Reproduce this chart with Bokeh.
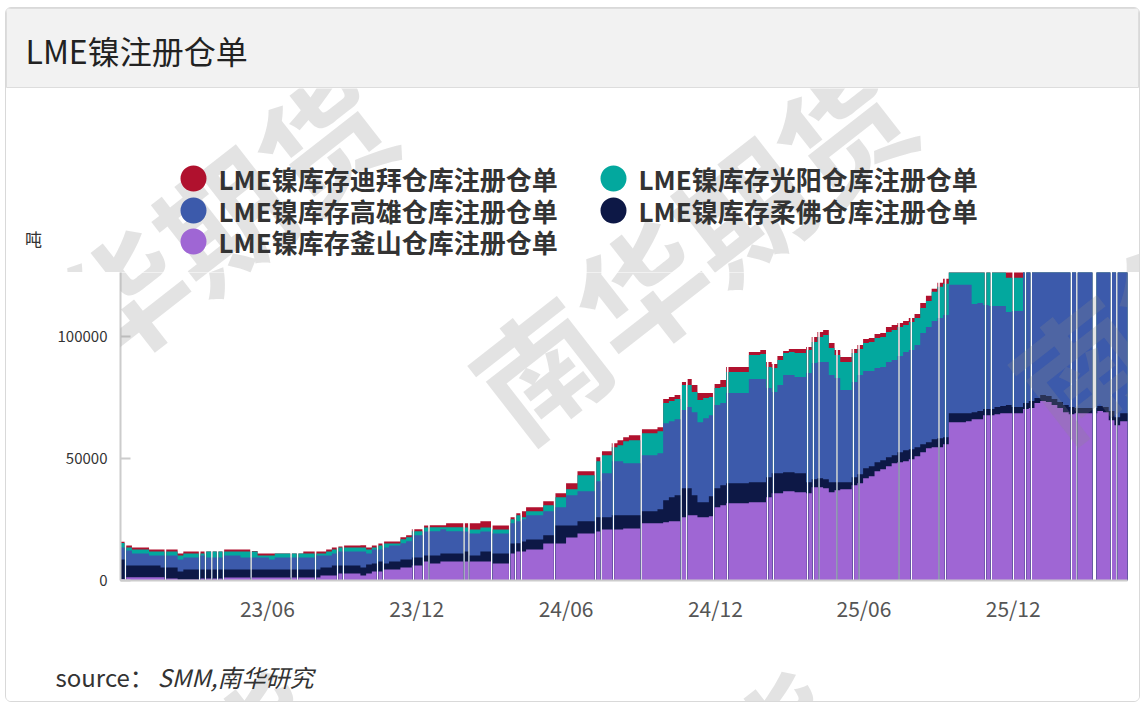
import pandas as pd
from bokeh.plotting import figure
from bokeh.models import (Range1d, FixedTicker, DatetimeTickFormatter, BasicTickFormatter,
                          Label, BoxAnnotation, ColumnDataSource, Column)
from bokeh.embed import file_html
from bokeh.resources import INLINE

# ---------------- data ----------------
series_names = ["LME镍库存迪拜仓库注册仓单", "LME镍库存光阳仓库注册仓单",
                "LME镍库存高雄仓库注册仓单", "LME镍库存柔佛仓库注册仓单",
                "LME镍库存釜山仓库注册仓单"]
first_week = "2022-12-03"
last_day = "2026-04-20"
n_weeks = 177

busan = [600, 1350, 1350, 1350, 1350, 1350, 1350, 1350, 820, 820,
         410, 410, 410, 410, 820, 820, 820, 820, 1230, 1230,
         1230, 1230, 1230, 1230, 1230, 1230, 1230, 1230, 1230, 1230,
         1230, 1230, 1230, 1230, 1230, 2050, 2050, 2050, 2870, 2870,
         2870, 2870, 2050, 2870, 3700, 3700, 4500, 4500, 4500, 5330,
         5330, 6150, 6150, 7790, 6970, 6970, 7790, 7790, 7790, 7790,
         7790, 7790, 7790, 7790, 7790, 6970, 6970, 6970, 11070, 11890,
         11890, 12710, 12710, 12710, 15170, 15170, 15170, 15170, 17630, 17630,
         19270, 19270, 19270, 20090, 20910, 20910, 20910, 20910, 21320, 21320,
         21320, 23370, 23370, 23370, 23370, 23780, 24190, 24190, 25830, 26650,
         26650, 25830, 25830, 26240, 29930, 30750, 31570, 31570, 31570, 31570,
         31980, 31980, 31980, 34030, 35670, 35670, 36490, 36490, 36080, 36080,
         35670, 38130, 38130, 37720, 36080, 36900, 37310, 37310, 38950, 39770,
         41820, 42640, 44690, 45510, 46740, 47970, 48380, 48790, 49610, 50840,
         52480, 54120, 54530, 54530, 55760, 64780, 64780, 64780, 65190, 66010,
         66010, 67650, 67650, 68060, 68470, 68470, 68470, 68470, 70110, 70520,
         72570, 73390, 72980, 71750, 70520, 68880, 68060, 68470, 68470, 68470,
         68470, 69290, 68880, 65600, 63550, 65190, 65190]
johor = [8000, 4800, 4800, 4800, 4800, 4800, 4800, 4000, 4500, 4500,
         3300, 4100, 4100, 4100, 3700, 3700, 3700, 3700, 3300, 3300,
         3300, 3300, 3300, 3300, 3300, 3300, 3300, 3300, 3300, 3300,
         3300, 3300, 3300, 3300, 3300, 3300, 3300, 4100, 3300, 3300,
         3300, 3300, 3300, 3700, 3300, 4100, 2460, 3300, 3300, 3300,
         3300, 3300, 3300, 2460, 3300, 3300, 3300, 3300, 3300, 3300,
         4100, 2460, 2460, 4100, 4100, 4100, 4100, 4100, 4100, 3300,
         4100, 4100, 4100, 4100, 3300, 3300, 7380, 7380, 4920, 4920,
         4920, 4920, 4920, 5740, 4920, 4920, 5740, 5740, 5330, 5330,
         5330, 4920, 4920, 4920, 5740, 9020, 9840, 10660, 11890, 11070,
         8200, 6150, 6150, 8200, 7790, 8200, 8200, 8200, 8200, 8200,
         8200, 8200, 8200, 8200, 8200, 8200, 7790, 7790, 7790, 7790,
         4510, 3280, 3690, 3690, 4100, 3280, 2870, 2870, 3280, 3690,
         4100, 4100, 3690, 3690, 3690, 3280, 4100, 4510, 4100, 3690,
         3280, 2460, 3280, 3690, 2870, 3690, 3690, 3690, 3280, 2870,
         3280, 2460, 2460, 2870, 2870, 3280, 2460, 2460, 2460, 2870,
         2050, 2460, 2460, 2460, 2460, 2870, 2870, 2050, 2050, 2050,
         2050, 2050, 2050, 3690, 3280, 3280, 3280]
kaohsiung = [4900, 6150, 4900, 4900, 4900, 4100, 4100, 4900, 4900, 4900,
             4900, 4900, 4900, 4900, 5700, 4900, 4900, 4900, 5700, 5700,
             5700, 4900, 4900, 4900, 4900, 4900, 4100, 4900, 4900, 4900,
             4900, 4900, 4900, 4900, 5700, 4900, 4900, 4900, 5700, 5700,
             5700, 5700, 6560, 4500, 5700, 4900, 6560, 6560, 6560, 6560,
             7380, 9020, 9020, 9840, 9840, 9840, 9840, 9020, 9020, 9020,
             8200, 9020, 9020, 8200, 8200, 8200, 8200, 8200, 8200, 9020,
             9020, 9840, 9840, 9840, 9840, 9840, 7380, 7380, 12300, 12300,
             12300, 12300, 12300, 14760, 18040, 18040, 22140, 22140, 21320, 21320,
             21320, 22960, 22960, 22960, 22960, 31570, 31160, 31160, 31980, 33210,
             34030, 32800, 34440, 33210, 34030, 33620, 36900, 36900, 36900, 36900,
             42230, 42230, 42230, 36490, 33210, 36080, 39770, 39770, 39360, 39360,
             44690, 47560, 47560, 47970, 43870, 42640, 37720, 37720, 38950, 40590,
             39770, 38950, 38540, 38130, 38950, 38950, 39360, 40180, 40590, 41820,
             45510, 47150, 48380, 49200, 50020, 52480, 52480, 52480, 52480, 44280,
             44280, 42640, 42230, 41410, 41000, 38130, 39360, 39360, 60000, 60000,
             60000, 60000, 60000, 60000, 60000, 60000, 60000, 60000, 60000, 60000,
             60000, 60000, 60000, 60000, 60000, 60000, 60000]
gwangyang = [1800, 1230, 1640, 1640, 1640, 1640, 1640, 1640, 1640, 1640,
             1640, 1640, 1640, 1640, 820, 2460, 2460, 2460, 1640, 1640,
             1640, 2460, 2460, 2460, 820, 820, 1640, 1640, 1640, 1640,
             1640, 1640, 1640, 1640, 820, 820, 1640, 1640, 1640, 1640,
             1640, 1640, 1640, 1640, 820, 1640, 1640, 820, 820, 1640,
             1640, 1640, 1640, 1640, 1640, 1640, 820, 1640, 1640, 1640,
             1640, 1640, 1640, 1640, 1640, 1640, 1640, 1640, 1640, 2460,
             820, 1640, 1640, 1640, 2460, 2460, 4100, 4100, 2460, 2460,
             6560, 6560, 6560, 8200, 7380, 7380, 5740, 6560, 9020, 9430,
             9430, 9020, 9020, 9020, 9020, 8200, 8200, 8200, 10250, 9020,
             8200, 9020, 8200, 7380, 6970, 6560, 8610, 8610, 8610, 8610,
             9840, 9840, 10250, 8610, 9840, 10250, 9020, 9430, 9840, 9840,
             9430, 8610, 10250, 11070, 11070, 9430, 11480, 11480, 11890, 10660,
             11480, 11890, 12300, 12300, 12300, 12300, 11890, 11070, 11480, 11070,
             10250, 10660, 11890, 12710, 12710, 13000, 13000, 13000, 13000, 20000,
             20000, 20000, 20000, 20000, 20000, 13940, 13530, 13530, 0, 0,
             0, 0, 0, 0, 0, 0, 0, 0, 0, 0,
             0, 0, 0, 0, 0, 0, 0]
dubai = [600, 820, 820, 820, 820, 820, 820, 820, 820, 820,
         820, 820, 820, 820, 820, 0, 0, 0, 820, 820,
         820, 820, 820, 200, 820, 820, 820, 0, 0, 0,
         0, 0, 820, 820, 820, 820, 820, 820, 400, 820,
         820, 820, 820, 820, 820, 820, 820, 820, 820, 820,
         820, 820, 820, 820, 820, 820, 820, 1640, 1640, 1640,
         1640, 2460, 2460, 2460, 2460, 1640, 1640, 1640, 820, 820,
         2460, 1640, 1640, 1640, 1640, 1640, 1640, 1640, 2460, 2460,
         1640, 1640, 1640, 1640, 1640, 1640, 1640, 2050, 1640, 2050,
         2050, 1640, 1640, 1640, 1640, 1640, 1640, 1640, 1230, 2460,
         2870, 2870, 2050, 1640, 1640, 2870, 2050, 2050, 2050, 2050,
         1230, 1230, 1640, 2050, 1640, 1640, 820, 1230, 1640, 1640,
         1230, 2050, 2050, 2050, 2050, 2050, 2050, 2050, 1640, 1640,
         1640, 1640, 1640, 1640, 2050, 2050, 1640, 1640, 1640, 1640,
         2050, 2050, 1230, 1640, 2050, 2000, 2000, 2000, 2000, 2000,
         2000, 2000, 2000, 2000, 2000, 3000, 3000, 3000, 0, 0,
         0, 0, 0, 0, 0, 0, 0, 0, 0, 0,
         0, 0, 0, 0, 0, 0, 0]

# days with no report (start date, number of days)
gap_start = ["2022-12-08", "2023-01-26", "2023-03-09", "2023-03-16", "2023-03-24",
             "2023-03-31", "2023-04-07", "2023-05-11", "2023-06-29", "2023-07-07",
             "2023-07-29", "2023-08-25", "2023-09-01", "2023-10-13", "2023-10-20",
             "2023-11-26", "2023-12-08", "2023-12-15", "2024-01-27", "2024-02-02",
             "2024-03-01", "2024-03-23", "2024-03-30", "2024-04-06", "2024-05-17",
             "2024-07-06", "2024-07-13", "2024-07-28", "2024-08-31", "2024-10-19",
             "2024-10-26", "2024-11-28", "2024-12-15", "2025-02-02", "2025-02-09",
             "2025-03-23", "2025-03-30", "2025-04-06", "2025-04-28", "2025-05-18",
             "2025-05-25", "2025-07-13", "2025-07-28", "2025-08-31", "2025-09-08",
             "2025-10-27", "2025-11-03", "2025-11-30", "2025-12-15", "2025-12-22",
             "2026-02-09", "2026-02-16", "2026-03-08", "2026-03-30", "2026-04-06"]
gap_days = [2] * 52 + [5, 2, 2]

tick_dates = ["2023-06-01", "2023-12-01", "2024-06-01", "2024-12-01", "2025-06-01", "2025-12-01"]
y_ticks = [0, 50000, 100000]
unit_label = "吨"
title_text = "LME镍注册仓单"
source_head = "source："
source_body = "SMM,南华研究"
watermark = "南华期货"
colors = ["#b0112e", "#03a89e", "#3c5aab", "#0d1846", "#9f66d4"]  # legend order

# ---------------- build stacked step polygons ----------------
weeks = pd.date_range(first_week, periods=n_weeks, freq="7D")
gaps = [(pd.Timestamp(s), pd.Timestamp(s) + pd.Timedelta(days=d)) for s, d in zip(gap_start, gap_days)]
stack = [busan, johor, kaohsiung, gwangyang, dubai]  # bottom -> top
stack_colors = ["#9f66d4", "#0d1846", "#3c5aab", "#03a89e", "#b0112e"]

pieces = []
for i, a in enumerate(weeks):
    b = a + pd.Timedelta(days=7)
    cur = a
    for g0, g1 in gaps:
        if g1 <= a or g0 >= b:
            continue
        if g0 > cur:
            pieces.append((cur, g0, i))
        cur = max(cur, g1)
    if cur < b:
        pieces.append((cur, b, i))

runs = []
for pc in pieces:
    if runs and runs[-1][-1][1] == pc[0]:
        runs[-1].append(pc)
    else:
        runs.append([pc])

cum = []
acc = [0] * n_weeks
for s in stack:
    acc = [acc[i] + s[i] for i in range(n_weeks)]
    cum.append(list(acc))


def ms(t):
    return t.value / 1e6


FONT = "Noto Sans CJK SC"
W = 1133
PAGE_LEFT = 6  # page x of the card content


def plain_fig(height, **kw):
    f = figure(width=W, height=height, x_range=Range1d(0, 1), y_range=Range1d(0, 1),
               output_backend="svg", toolbar_location=None, min_border=0,
               x_axis_location=None, y_axis_location=None, outline_line_color=None,
               frame_align=False, **kw)
    f.grid.visible = False
    return f


# watermark centres in page pixels (translucent, drawn over everything)
wm_centres = [(170, 255), (689, 246), (1229, 245), (104, 858), (624, 858)]


def add_watermarks(fig, frame_left, frame_bottom):
    for cx, cy in wm_centres:
        fig.add_layout(Label(x=cx - frame_left, y=frame_bottom - cy, x_units="screen", y_units="screen",
                             text=watermark, text_font=FONT, text_font_size="128px",
                             text_font_style="bold", text_color="#8c8c8c", text_alpha=0.24,
                             angle=38, angle_units="deg", text_align="center",
                             text_baseline="middle"))


# ---------------- header ----------------
h = plain_fig(80, background_fill_color="#f2f2f2", border_fill_color="#f2f2f2")
h.outline_line_color = "#dddddd"
h.add_layout(Label(x=19, y=39, x_units="screen", y_units="screen", text=title_text,
                   text_font=FONT, text_font_size="32px", text_color="#222222",
                   text_baseline="middle"))

# ---------------- legend area ----------------
lg = plain_fig(184, background_fill_color="white", border_fill_color="white")
add_watermarks(lg, PAGE_LEFT, 272)
leg_pos = [(187, 94), (607, 94), (187, 62), (607, 62), (187, 31)]
for (lx, ly), name, c in zip(leg_pos, series_names, colors):
    lg.add_layout(BoxAnnotation(left=lx - 13, right=lx + 13, bottom=ly - 13, top=ly + 13,
                                left_units="screen", right_units="screen",
                                bottom_units="screen", top_units="screen",
                                fill_color=c, fill_alpha=1, line_color=None, border_radius=13))
    lg.add_layout(Label(x=lx + 25, y=ly, x_units="screen", y_units="screen", text=name,
                        text_font=FONT, text_font_size="26px", text_font_style="bold",
                        text_color="#333333", text_baseline="middle"))
lg.add_layout(Label(x=27, y=34, x_units="screen", y_units="screen", text=unit_label,
                    text_font=FONT, text_font_size="17px", text_color="#333333",
                    text_align="center", text_baseline="middle"))

# ---------------- main chart ----------------
p = figure(width=W, height=368, x_axis_type="datetime",
           x_range=Range1d(pd.Timestamp(first_week), pd.Timestamp(last_day)),
           y_range=Range1d(0, 126000),
           output_backend="svg", toolbar_location=None, frame_align=False,
           min_border_left=114, min_border_right=12, min_border_top=0, min_border_bottom=60,
           outline_line_color=None, background_fill_color="white", border_fill_color="white")
p.grid.visible = False

for j in range(4, -1, -1):
    xs, ys = [], []
    for run in runs:
        rx, ry = [], []
        for l, r, i in run:
            rx += [ms(l), ms(r)]
            ry += [cum[j][i], cum[j][i]]
        rx += [ms(run[-1][1]), ms(run[0][0])]
        ry += [0, 0]
        xs.append(rx)
        ys.append(ry)
    p.patches(xs="xs", ys="ys", source=ColumnDataSource(dict(xs=xs, ys=ys)),
              fill_color=stack_colors[j], line_color=None)

p.yaxis.ticker = FixedTicker(ticks=y_ticks)
p.yaxis.formatter = BasicTickFormatter(use_scientific=False)
p.yaxis.axis_line_color = "#cccccc"
p.yaxis.axis_line_width = 2
p.yaxis.major_tick_in = 10
p.yaxis.major_tick_out = 0
p.yaxis.major_tick_line_color = "#cccccc"
p.yaxis.major_tick_line_width = 2
p.yaxis.minor_tick_line_color = None
p.yaxis.major_label_text_font = FONT
p.yaxis.major_label_text_font_size = "15px"
p.yaxis.major_label_text_color = "#333333"
p.yaxis.major_label_standoff = 13

tick_ms = [pd.Timestamp(t).value // 10**6 for t in tick_dates]
p.xaxis.ticker = FixedTicker(ticks=tick_ms)
fmt = "%y/%m"
p.xaxis.formatter = DatetimeTickFormatter(milliseconds=fmt, seconds=fmt, minsec=fmt, minutes=fmt,
                                          hourmin=fmt, hours=fmt, days=fmt, months=fmt, years=fmt)
p.xaxis.axis_line_color = "#cccccc"
p.xaxis.axis_line_width = 2
p.xaxis.major_tick_line_color = None
p.xaxis.minor_tick_line_color = None
p.xaxis.major_label_text_font = FONT
p.xaxis.major_label_text_font_size = "21px"
p.xaxis.major_label_text_color = "#555555"
p.xaxis.major_label_standoff = 6

add_watermarks(p, 120, 580)

# ---------------- footer ----------------
ft = plain_fig(61, background_fill_color="white", border_fill_color="white")
add_watermarks(ft, PAGE_LEFT, 701)
ft.add_layout(Label(x=49, y=25, x_units="screen", y_units="screen", text=source_head,
                    text_font=FONT, text_font_size="24px", text_color="#333333",
                    text_baseline="middle"))
ft.add_layout(Label(x=151, y=25, x_units="screen", y_units="screen", text=source_body,
                    text_font=FONT, text_font_size="24px", text_font_style="italic",
                    text_color="#333333", text_baseline="middle"))

layout = Column(children=[h, lg, p, ft],
                styles={"margin": "7px 0 0 5px", "border": "1px solid #d9d9d9",
                        "border-radius": "6px", "overflow": "hidden"})

open("out.html", "w").write(file_html(layout, INLINE))
